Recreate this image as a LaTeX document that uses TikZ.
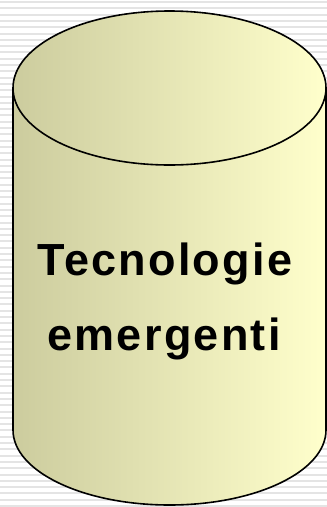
\documentclass[tikz,border=0pt]{standalone}
\usepackage{fontspec}
\setmainfont{Liberation Sans}
\definecolor{cylleft}{HTML}{CCCC9E}
\definecolor{cylright}{HTML}{FFFFCC}
\definecolor{stripegray}{HTML}{E4E4E4}
\begin{document}
\begin{tikzpicture}[x=1pt, y=-1pt,
        stripe/.style={draw=stripegray, line width=2pt},
        cylfill/.style={left color=cylleft, right color=cylright},
        cylline/.style={draw=black, line width=1.6pt},
        label/.style={anchor=base, font=\fontsize{45}{50}\selectfont\bfseries\addfontfeature{LetterSpace=5}}
    ]
      \useasboundingbox (0,0) rectangle (327,507);
      % striped background
      \foreach \y in {2,8.3,...,507}
        \draw[stripe] (0,\y) -- (327,\y);
      % cylinder body
      \shade[cylfill] (13,88) -- (13,430)
        arc[start angle=180, end angle=360, x radius=156.5pt, y radius=75pt] -- (326,88) -- cycle;
      \draw[cylline] (13,88) -- (13,430)
        arc[start angle=180, end angle=360, x radius=156.5pt, y radius=75pt] -- (326,88);
      % cylinder top
      \shade[cylfill] (169.5,88) ellipse [x radius=156.5pt, y radius=77pt];
      \draw[cylline] (169.5,88) ellipse [x radius=156.5pt, y radius=77pt];
      % text
      \node[label] (tecno) at (165,275) {Tecnologie};
      \node[label] (emerg) at (164,350) {emergenti};
    \end{tikzpicture}
\end{document}
